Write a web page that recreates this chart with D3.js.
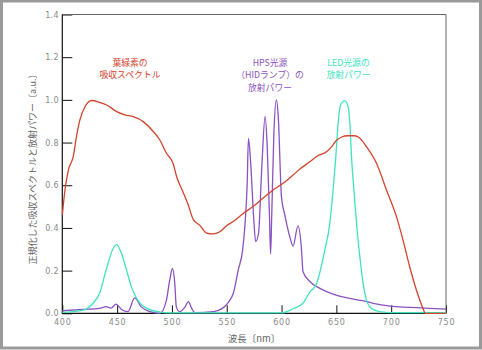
<!DOCTYPE html>
<html><head><meta charset="utf-8">
<script src="https://cdn.jsdelivr.net/npm/d3@7"></script>
<style>html,body{margin:0;padding:0;background:#fff;}svg{display:block;}</style>
</head><body>
<svg id="chart" width="482" height="350"></svg>
<script>
// Chlorophyll absorption spectrum (red)
const chlWl  = [400,402.5,405.5,410,413,416,420.7,426.8,434,440.5,449.6,457,464.7,473.8,481.5,489,495,501,504.3,510,514.9,519.4,525.5,531.6,537,543.7,549.8,555.9,565,574,583,592.3,601.4,610.5,616.5,625.8,632,641,645.6,650,655,660,666,670,677.6,686.6,695.7,704.8,710.8,716.9,723,729,731,750];
const chlVal = [0.46,0.58,0.67,0.735,0.83,0.905,0.968,0.997,0.988,0.976,0.945,0.93,0.921,0.898,0.86,0.812,0.75,0.703,0.64,0.57,0.507,0.44,0.412,0.376,0.372,0.382,0.41,0.43,0.468,0.5,0.539,0.578,0.609,0.648,0.675,0.71,0.735,0.757,0.78,0.81,0.826,0.832,0.832,0.826,0.78,0.703,0.578,0.453,0.343,0.218,0.109,0.023,0,0];
// HPS (HID lamp) emission (purple)
const hpsWl  = [400,419,434,440,444.5,449,454,460,466,472,480,489,495,498,500.5,502.6,504,507,512,515,518,521,538,546,552,556,560.5,564.5,566.5,568.6,569.8,572,574.5,576.4,579,582,585,587,589,590,591,593,595.3,597,599.9,603,607.5,610.5,615,618,619.6,626,635,647,662,674,683.5,699,717,750];
const hpsVal = [0.012,0.018,0.023,0.031,0.024,0.043,0.018,0.008,0.072,0.03,0.008,0.0,0.062,0.156,0.21,0.14,0.03,0.008,0.03,0.055,0.023,0.003,0.008,0.023,0.055,0.094,0.203,0.297,0.406,0.6,0.82,0.69,0.453,0.336,0.375,0.687,0.922,0.77,0.45,0.278,0.45,0.844,1.0,0.922,0.546,0.46,0.359,0.315,0.41,0.312,0.195,0.148,0.117,0.09,0.07,0.059,0.047,0.034,0.028,0.02];
// LED emission (teal)
const ledWl  = [400,419,428,434,440,446.5,449.6,454,458.7,463,467.8,477,489,500,600,610,619.6,625,632,639.5,644,647,649.5,651.6,653.8,657.7,660.7,662.3,663.8,666,668.4,671.4,674.4,677.5,682,689.6,700,750];
const ledVal = [0.004,0.015,0.047,0.094,0.203,0.305,0.322,0.28,0.2,0.125,0.07,0.023,0.006,0.002,0.002,0.02,0.047,0.094,0.14,0.297,0.42,0.578,0.734,0.89,0.976,0.995,0.968,0.89,0.734,0.578,0.42,0.265,0.14,0.062,0.023,0.008,0.003,0.003];

const xTicks = [400,450,500,550,600,650,700,750];
const yTicks = [0,0.2,0.4,0.6,0.8,1.0,1.2,1.4];
const xTitle = "波長〔nm〕";
const yTitle = "正規化した吸収スペクトルと放射パワー〔a.u.〕";
const chlLabel = ["葉緑素の","吸収スペクトル"];
const hpsLabel = ["HPS光源","（HIDランプ）の","放射パワー"];
const ledLabel = ["LED光源の","放射パワー"];

const svg = d3.select("#chart");
const L = 62.3, R = 446, T = 14.5, B = 313.3;
const x = d3.scaleLinear().domain([400,750]).range([L,R]);
const y = d3.scaleLinear().domain([0,1.4]).range([B,T]);

// outer frame
svg.append("rect").attr("x",1.5).attr("y",1).attr("width",479).attr("height",347)
  .attr("fill","#fff").attr("stroke","#9a9a9a").attr("stroke-width",3);

const numFont = "'DejaVu Sans', sans-serif";
const jpFont = "'Noto Sans CJK JP', sans-serif";

// axes
const gy = svg.append("g").attr("transform",`translate(${L},0)`)
  .call(d3.axisLeft(y).tickValues(yTicks).tickSize(-10).tickPadding(3.5).tickFormat(d3.format(".1f")));
const gx = svg.append("g").attr("transform",`translate(0,${B})`)
  .call(d3.axisBottom(x).tickValues(xTicks).tickSize(-8).tickPadding(6).tickFormat(d3.format("d")));
[gy,gx].forEach(g=>{
  g.select(".domain").remove();
  g.selectAll(".tick line").attr("stroke","#111").attr("stroke-width",1);
  g.selectAll(".tick text").attr("fill","#8a8a8a").attr("font-family",numFont).attr("font-size",8);
});
gx.selectAll(".tick text").attr("letter-spacing",0.8);
gy.selectAll(".tick text").attr("letter-spacing",0.3);

// plot frame
svg.append("path").attr("d",`M${L},${T}H${R}V${B}`).attr("fill","none").attr("stroke","#666").attr("stroke-width",1);
svg.append("path").attr("d",`M${L},${T}V${B}H${R}`).attr("fill","none").attr("stroke","#111").attr("stroke-width",1.2);

// curves
const line = d3.line().x(d=>x(d[0])).y(d=>y(d[1])).curve(d3.curveMonotoneX);
const series = [
  {wl:hpsWl, v:hpsVal, c:"#8a52c2"},
  {wl:ledWl, v:ledVal, c:"#3fe3bd"},
  {wl:chlWl, v:chlVal, c:"#d4432b"}
];
series.forEach(s=>{
  svg.append("path").datum(d3.zip(s.wl,s.v)).attr("d",line)
    .attr("fill","none").attr("stroke",s.c).attr("stroke-width",1.3).attr("stroke-linejoin","round");
});

// axis titles
svg.append("text").attr("x",254).attr("y",341.5).attr("text-anchor","middle")
  .attr("font-family",jpFont).attr("font-size",9.5).attr("fill","#666").text(xTitle);
svg.append("text").attr("transform","translate(35.5,167) rotate(-90)").attr("text-anchor","middle")
  .attr("font-family",jpFont).attr("font-size",9).attr("fill","#666").text(yTitle);

// annotations
function label(lines, cx, y0, color){
  lines.forEach((t,i)=>{
    svg.append("text").attr("x",cx).attr("y",y0+i*12.8).attr("text-anchor","middle")
      .attr("font-family",jpFont).attr("font-size",8.8).attr("fill",color).text(t);
  });
}
label(chlLabel, 130, 65.5, "#d4432b");
label(hpsLabel, 270, 65.5, "#8a52c2");
label(ledLabel, 348.5, 65.5, "#3fe3bd");
</script>
</body></html>
